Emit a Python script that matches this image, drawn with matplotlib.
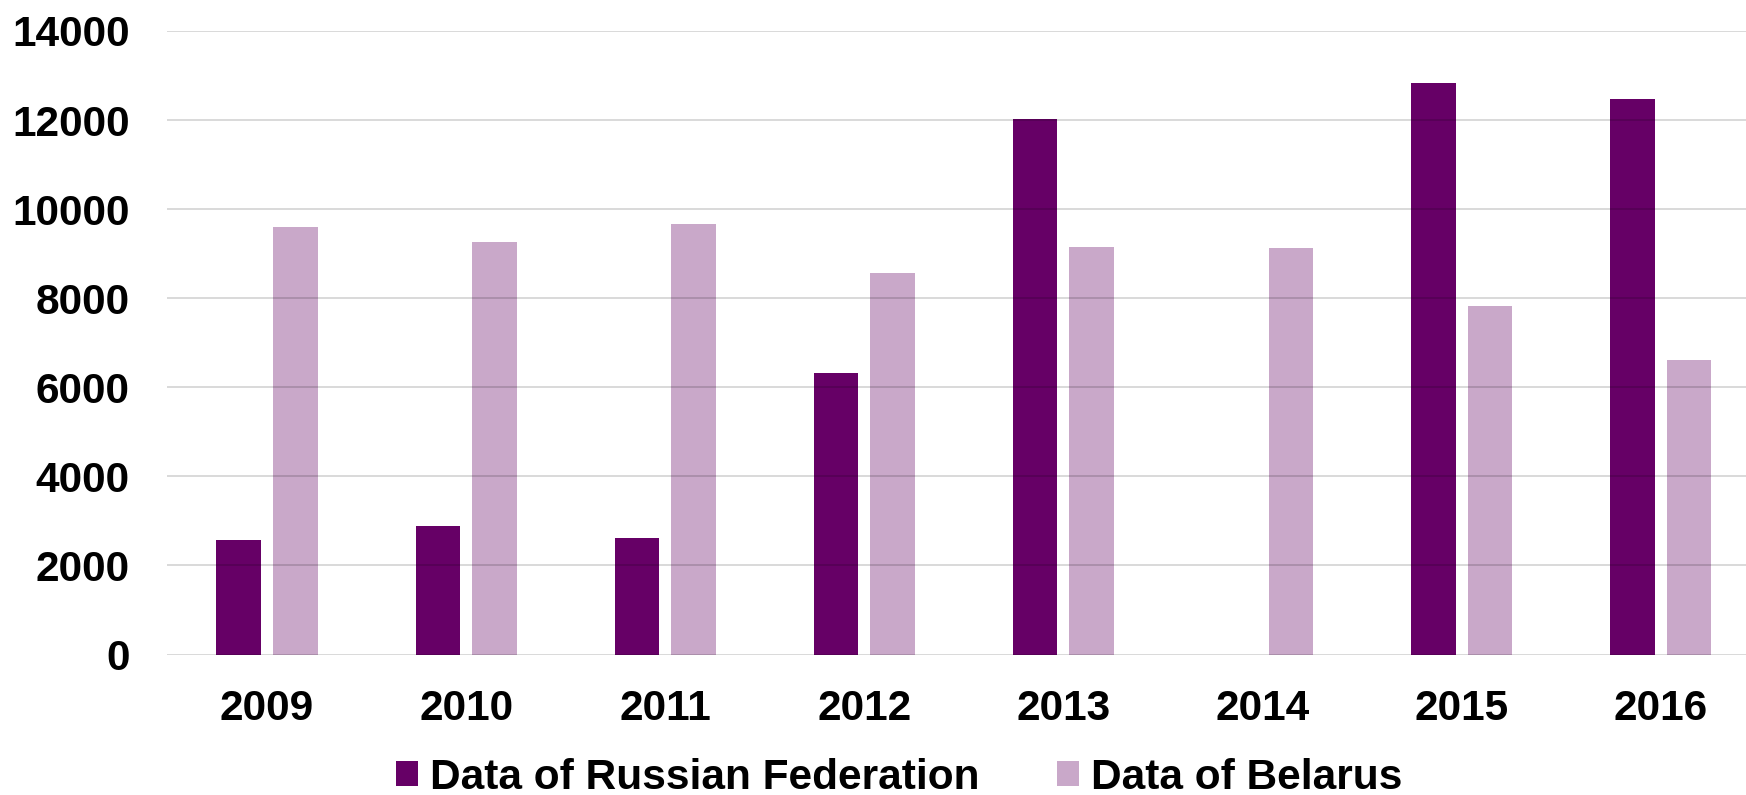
import matplotlib
matplotlib.use("Agg")
import matplotlib.pyplot as plt
import numpy as np

# -- Data -----------------------------------------------------------------
years = ["2009", "2010", "2011", "2012", "2013", "2014", "2015", "2016"]
russia = [2565, 2895, 2615, 6315, 12030, 0, 12825, 12465]
belarus = [9600, 9265, 9660, 8560, 9142, 9120, 7826, 6608]
y_ticks = [0, 2000, 4000, 6000, 8000, 10000, 12000, 14000]
series_names = ["Data of Russian Federation", "Data of Belarus"]

RUSSIA_COLOR = "#660066"
BELARUS_COLOR = "#C9A8C9"
FONT_SIZE = 30.5

plt.rcParams["font.family"] = ["Liberation Sans", "DejaVu Sans"]
plt.rcParams["font.weight"] = "bold"

fig = plt.figure(figsize=(17.46, 7.95), dpi=100)
ax = fig.add_axes([0.0959, 0.1767, 1.0 - 0.0959, 0.7844])

x = np.arange(len(years))
width = 0.224
offset = 0.142
ax.bar(x - offset, russia, width, color=RUSSIA_COLOR, label=series_names[0], zorder=1)
ax.bar(x + offset, belarus, width, color=BELARUS_COLOR, label=series_names[1], zorder=1)

# -- Axes styling ---------------------------------------------------------
ax.set_ylim(0, 14000)
ax.set_xlim(-0.5, -0.5 + (1746 - 167.5) / 199.1)
ax.set_yticks(y_ticks)
ax.set_yticklabels([str(v) for v in y_ticks])
ax.set_xticks(x)
ax.set_xticklabels(years)
ax.tick_params(axis="both", length=0, labelsize=FONT_SIZE)
ax.tick_params(axis="y", pad=27)
ax.tick_params(axis="x", pad=25)
for lbl in ax.get_xticklabels() + ax.get_yticklabels():
    lbl.set_fontweight("bold")

for s in ax.spines.values():
    s.set_visible(False)
ax.set_axisbelow(False)
ax.yaxis.grid(True, color="black", alpha=0.15, linewidth=1.4, zorder=3)
ax.xaxis.grid(False)

fig.legend(loc="center", bbox_to_anchor=(0.5149, 0.022), ncol=2, frameon=False,
           prop={"size": FONT_SIZE, "weight": "bold"}, handlelength=0.52, handleheight=0.52,
           handletextpad=0.28, columnspacing=1.82, borderpad=0)

fig.savefig("out.png", dpi=100)
